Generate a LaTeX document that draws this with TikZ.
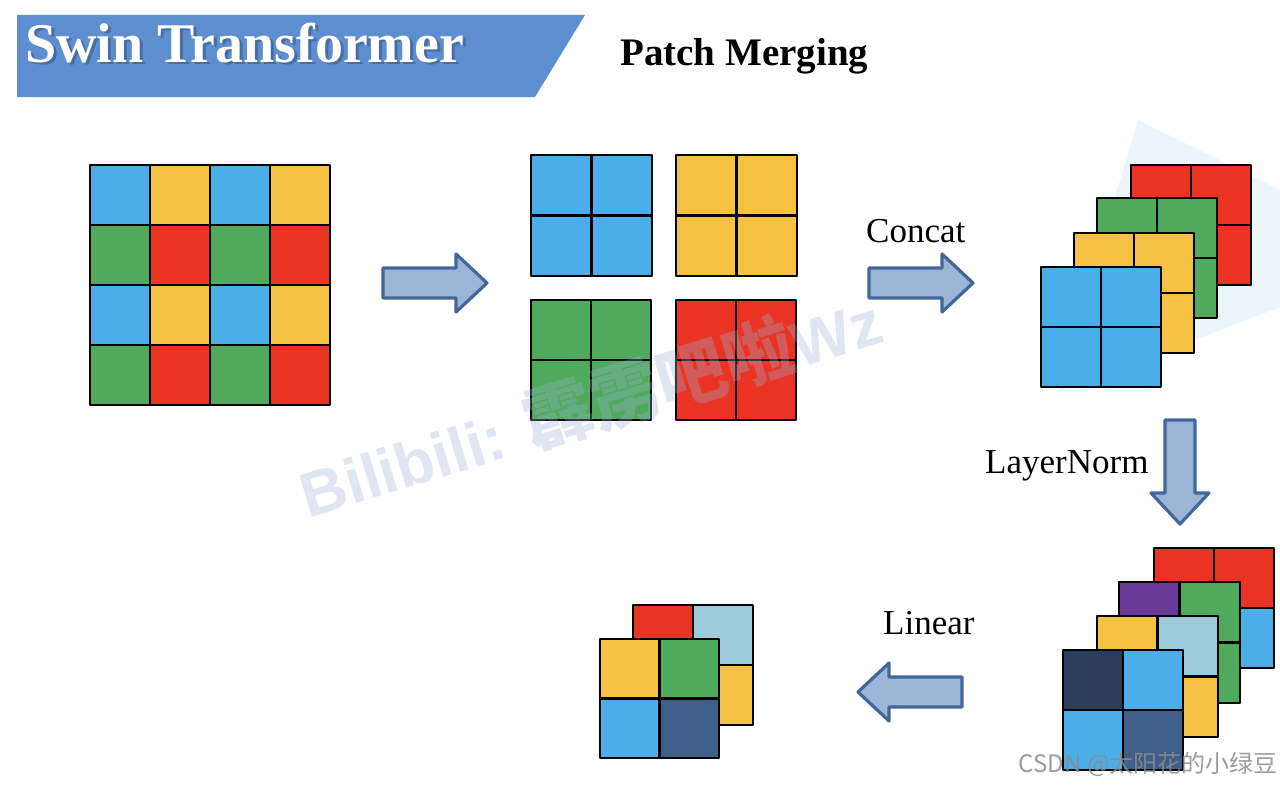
\documentclass[tikz,border=0pt]{standalone}
\usepackage{fontspec}
\setmainfont{Liberation Serif}
\newfontfamily\wmlatin{Liberation Sans}
\newfontfamily\cjk{Noto Sans CJK SC}
\definecolor{cblue}{HTML}{4BAEE8}
\definecolor{cyellow}{HTML}{F5C143}
\definecolor{cgreen}{HTML}{4FAA5B}
\definecolor{cred}{HTML}{EA3323}
\definecolor{cpurple}{HTML}{6A3A98}
\definecolor{clight}{HTML}{9ECBDC}
\definecolor{cnavy}{HTML}{2A3E5C}
\definecolor{cslate}{HTML}{3F5F8B}
\definecolor{banner}{HTML}{5C8ED0}
\definecolor{arrowfill}{HTML}{9BB5D6}
\definecolor{arrowedge}{HTML}{44679A}
\definecolor{wmblue}{HTML}{9DB3D6}
\definecolor{paleblue}{HTML}{EBF5FC}
\tikzset{
  gridline/.style={draw=black, line width=2.8pt, line join=round},
  blockarrow/.style={fill=arrowfill, draw=arrowedge, line width=3.2pt, line join=round},
  labeltext/.style={font=\fontsize{35}{42}\selectfont, anchor=base west, inner sep=0pt},
}
\newcommand\gridquad[7]{%
  \begin{scope}[shift={(#1,#2)}]
    \fill[#4] (0,0) rectangle (#3/2,#3/2);
    \fill[#5] (#3/2,0) rectangle (#3,#3/2);
    \fill[#6] (0,#3/2) rectangle (#3/2,#3);
    \fill[#7] (#3/2,#3/2) rectangle (#3,#3);
    \draw[gridline] (0,0) rectangle (#3,#3) (#3/2,0) -- (#3/2,#3) (0,#3/2) -- (#3,#3/2);
  \end{scope}}
\newcommand\blockarrowshape{%
  \path[blockarrow] (0,-15) -- (73,-15) -- (73,-29) -- (104,0) -- (73,29) -- (73,15) -- (0,15) -- cycle;}
\begin{document}
\begin{tikzpicture}[x=1pt,y=-1pt]
\useasboundingbox (0,0) rectangle (1280,792);
\fill[white] (0,0) rectangle (1280,792);
% pale background shape (top right)
\fill[paleblue] (1138,120) -- (1280,190) -- (1280,307) -- (1057,393) -- cycle;
% banner
\fill[banner] (17,15) -- (585,15) -- (535,97) -- (17,97) -- cycle;
\node[font=\fontsize{56}{60}\selectfont\bfseries, text=black, opacity=0.22, anchor=base west, inner sep=0pt] (titleshadow) at (28,65) {Swin Transformer};
\node[font=\fontsize{56}{60}\selectfont\bfseries, text=white, anchor=base west, inner sep=0pt] (title) at (25,63) {Swin Transformer};
\node[font=\fontsize{39}{44}\selectfont\bfseries, anchor=base west, inner sep=0pt] (pm) at (620,66) {Patch Merging};
% 4x4 grid
\begin{scope}[shift={(90,165)}]
  \foreach \r/\ca/\cb in {0/cblue/cyellow,1/cgreen/cred,2/cblue/cyellow,3/cgreen/cred}{
    \foreach \c in {0,2}{
      \fill[\ca] (\c*60,\r*60) rectangle ++(60,60);
      \fill[\cb] (\c*60+60,\r*60) rectangle ++(60,60);
    }
  }
  \draw[gridline] (0,0) rectangle (240,240);
  \foreach \k in {60,120,180}{
    \draw[gridline] (\k,0) -- (\k,240) (0,\k) -- (240,\k);
  }
\end{scope}
% arrow 1
\begin{scope}[shift={(383,283)}] \blockarrowshape \end{scope}
% split grids
\gridquad{531}{155}{121}{cblue}{cblue}{cblue}{cblue}
\gridquad{676}{155}{121}{cyellow}{cyellow}{cyellow}{cyellow}
\gridquad{531}{300}{120}{cgreen}{cgreen}{cgreen}{cgreen}
\gridquad{676}{300}{120}{cred}{cred}{cred}{cred}
% concat
\node[labeltext] (concat) at (866,242) {Concat};
\begin{scope}[shift={(869,283)}] \blockarrowshape \end{scope}
% concat stack
\gridquad{1131}{165}{120}{cred}{cred}{cred}{cred}
\gridquad{1097}{198}{120}{cgreen}{cgreen}{cgreen}{cgreen}
\gridquad{1074}{233}{120}{cyellow}{cyellow}{cyellow}{cyellow}
\gridquad{1041}{267}{120}{cblue}{cblue}{cblue}{cblue}
% layernorm
\node[labeltext] (ln) at (985,473) {LayerNorm};
\begin{scope}[shift={(1180,420)},rotate=-90] \blockarrowshape \end{scope}
% layernorm stack
\gridquad{1154}{548}{120}{cred}{cred}{cblue}{cblue}
\gridquad{1119}{582}{121}{cpurple}{cgreen}{cgreen}{cgreen}
\gridquad{1097}{616}{121}{cyellow}{clight}{cyellow}{cyellow}
\gridquad{1063}{650}{120}{cnavy}{cblue}{cblue}{cslate}
% linear
\node[labeltext] (lin) at (883,634) {Linear};
\begin{scope}[shift={(962,692)},rotate=180] \blockarrowshape \end{scope}
% output stack
\gridquad{633}{605}{120}{cred}{clight}{cyellow}{cyellow}
\gridquad{600}{639}{119}{cyellow}{cgreen}{cblue}{cslate}
% watermarks
\node[rotate=17, text=wmblue, opacity=0.32, inner sep=0pt] (wm) at (590,404)
  {\wmlatin\bfseries\fontsize{63}{68}\selectfont Bilibili: {\cjk\fontsize{70}{74}\selectfont 霹雳吧啦}Wz};
\node[text=black!45, opacity=0.85, anchor=base east, inner sep=0pt] (csdn) at (1278,772)
  {\cjk\fontsize{24}{28}\selectfont CSDN @太阳花的小绿豆};
\end{tikzpicture}
\end{document}
